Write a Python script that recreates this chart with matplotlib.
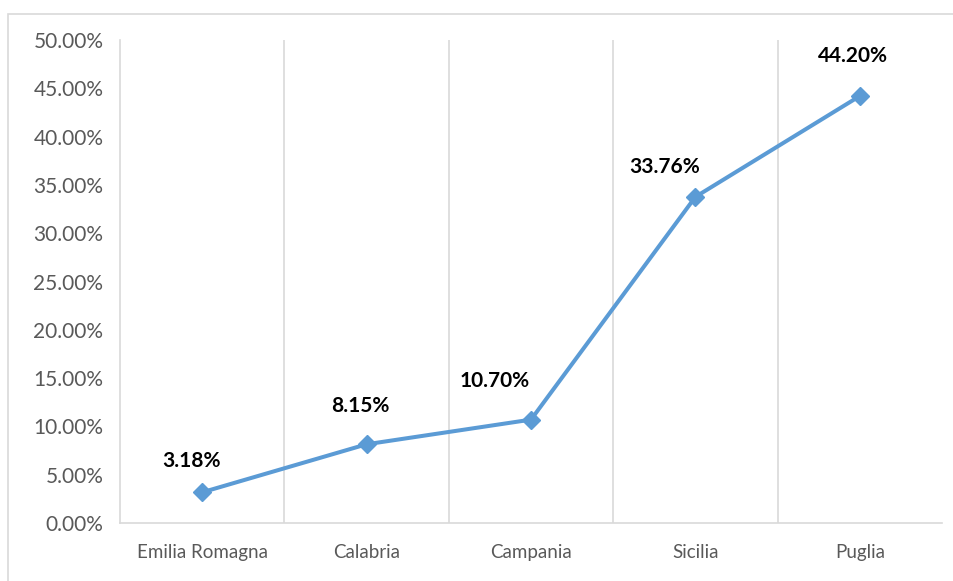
import numpy as np
import matplotlib.pyplot as plt
from matplotlib.ticker import FuncFormatter, FixedLocator
from matplotlib.patches import Rectangle

regioni = ['Emilia Romagna', 'Calabria', 'Campania', 'Sicilia', 'Puglia']
valori = [0.0318, 0.0815, 0.1070, 0.3376, 0.4420]
etichette = ['3.18%', '8.15%', '10.70%', '33.76%', '44.20%']

# spostamento delle etichette rispetto al punto (pixel)
dx_px = [-11, -6, -36, -31, -7]
dy_px = [31, 38, 39, 30, 40]

plt.rcParams['font.family'] = ['Lato', 'DejaVu Sans']

fig = plt.figure(figsize=(9.54, 5.81), dpi=100)
ax = fig.add_axes([120 / 954, 58 / 581, 822 / 954, 483 / 581])

# bordo dell'area grafico (tagliato a destra e in basso)
fig.patches.append(Rectangle((8 / 954, -0.05), 1.2, (581 - 14) / 581 + 0.05,
                             transform=fig.transFigure, fill=False,
                             edgecolor='#D9D9D9', lw=1.2))

x = np.arange(len(regioni))
ax.plot(x, valori, color='#5B9BD5', lw=2.9, marker='D', markersize=9, zorder=3)

for xi, yi, t, dx, dy in zip(x, valori, etichette, dx_px, dy_px):
    ax.annotate(t, (xi, yi), xytext=(dx * 0.72, dy * 0.72), textcoords='offset points',
                ha='center', va='center', fontsize=15, fontweight='bold', color='#000000')

ax.set_xlim(-0.5, len(regioni) - 0.5)
ax.set_ylim(0, 0.5)
ax.set_yticks(np.arange(0, 0.501, 0.05))
ax.yaxis.set_major_formatter(FuncFormatter(lambda v, p: f'{v * 100:.2f}%'))
ax.set_xticks(x)
ax.set_xticklabels(regioni)

# griglia verticale tra le categorie
ax.xaxis.set_minor_locator(FixedLocator(np.arange(0.5, len(regioni) - 0.5, 1)))
ax.grid(True, which='minor', axis='x', color='#D9D9D9', lw=1.2)
ax.grid(False, which='major')

for s in ['top', 'right']:
    ax.spines[s].set_visible(False)
for s in ['left', 'bottom']:
    ax.spines[s].set_color('#D9D9D9')
    ax.spines[s].set_linewidth(1.2)

ax.tick_params(axis='both', which='both', length=0)
ax.tick_params(axis='y', labelsize=15, labelcolor='#595959', pad=12)
ax.tick_params(axis='x', labelsize=13.5, labelcolor='#595959', pad=15)

fig.savefig('out.png', dpi=100)
